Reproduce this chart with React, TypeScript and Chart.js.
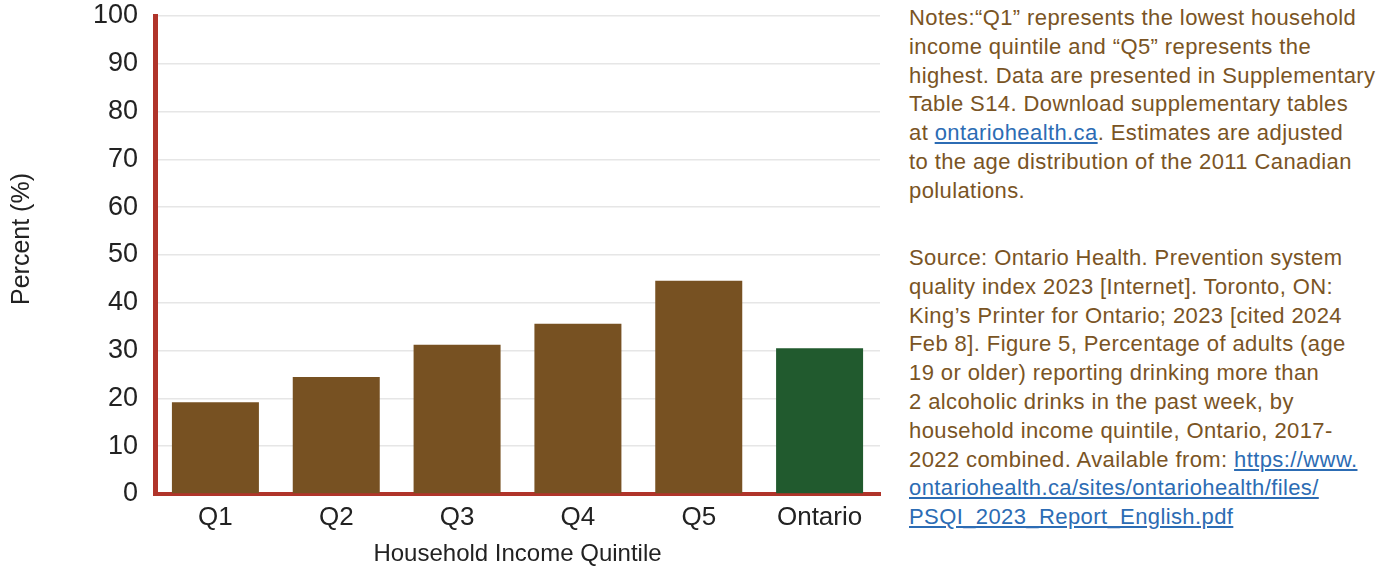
import React, { useEffect, useRef } from "react";
import { Chart, registerables } from "chart.js";

Chart.register(...registerables);

const categories = ["Q1", "Q2", "Q3", "Q4", "Q5", "Ontario"];
const percentValues = [19.2, 24.5, 31.2, 35.6, 44.6, 30.5];
const barColors = ["#775122", "#775122", "#775122", "#775122", "#775122", "#215a2e"];
const yTickValues = [0, 10, 20, 30, 40, 50, 60, 70, 80, 90, 100];
const yAxisTitle = "Percent (%)";
const xAxisTitle = "Household Income Quintile";

const FONT = "'Liberation Sans', Arial, sans-serif";
const TEXT_BROWN = "#7a5424";
const LINK_BLUE = "#2c6cb4";

const yTitlePlugin = {
  id: "yTitlePlugin",
  afterDraw(chart: any) {
    const ctx = chart.ctx;
    ctx.save();
    ctx.translate(22, 239);
    ctx.rotate(-Math.PI / 2);
    ctx.font = `25px ${FONT}`;
    ctx.fillStyle = "#222";
    ctx.textAlign = "center";
    ctx.textBaseline = "middle";
    ctx.fillText(yAxisTitle, 0, 0);
    ctx.restore();
  },
};

export default function App() {
  const canvasRef = useRef<HTMLCanvasElement | null>(null);

  useEffect(() => {
    if (!canvasRef.current) return;
    const chart = new Chart(canvasRef.current, {
      type: "bar",
      data: {
        labels: categories,
        datasets: [
          {
            data: percentValues,
            backgroundColor: barColors,
            borderWidth: 0,
            barPercentage: 0.72,
            categoryPercentage: 1,
          },
        ],
      },
      plugins: [yTitlePlugin],
      options: {
        animation: false,
        responsive: false,
        maintainAspectRatio: false,
        layout: { padding: { top: 16, right: 10, left: 0, bottom: 0 } },
        plugins: { legend: { display: false }, tooltip: { enabled: false } },
        scales: {
          x: {
            grid: { display: false, drawTicks: false },
            border: { display: true, color: "#b0342a", width: 4 },
            ticks: {
              color: "#222",
              font: { family: FONT, size: 26 },
              padding: 8,
            },
            title: {
              display: true,
              text: xAxisTitle,
              color: "#222",
              font: { family: FONT, size: 24 },
              padding: { top: 2, bottom: 0 },
            },
            afterFit: (scale: any) => {
              scale.height = 75;
              scale.paddingLeft = 0;
              scale.paddingRight = 0;
            },
          },
          y: {
            min: 0,
            max: 100,
            afterBuildTicks: (scale: any) => {
              scale.ticks = yTickValues.map((v) => ({ value: v }));
            },
            grid: { color: "#e6e6e6", lineWidth: 1.5, drawTicks: false },
            border: { display: true, color: "#b0342a", width: 5 },
            ticks: {
              color: "#222",
              font: { family: FONT, size: 27 },
              padding: 17,
            },
            afterFit: (scale: any) => {
              scale.width = 155;
              scale.paddingTop = 0;
              scale.paddingBottom = 0;
            },
          },
        },
      },
    });
    return () => chart.destroy();
  }, []);

  const para: React.CSSProperties = {
    margin: 0,
    fontFamily: FONT,
    fontSize: 22,
    letterSpacing: "0.4px",
    lineHeight: "28.8px",
    color: TEXT_BROWN,
    whiteSpace: "nowrap",
  };
  const link: React.CSSProperties = { color: LINK_BLUE, textDecoration: "underline" };

  return (
    <div style={{ position: "absolute", left: 0, top: 0, width: 1392, height: 569, background: "#fff", overflow: "hidden" }}>
      <div style={{ position: "absolute", left: 0, top: 0, width: 890, height: 569 }}>
        <canvas ref={canvasRef} width={890} height={569} style={{ width: 890, height: 569 }} />
      </div>
      <div style={{ position: "absolute", left: 909, top: 4 }}>
        <p style={para}>
          Notes:“Q1” represents the lowest household<br />
          income quintile and “Q5” represents the<br />
          highest. Data are presented in Supplementary<br />
          Table S14. Download supplementary tables<br />
          at <span style={link}>ontariohealth.ca</span>. Estimates are adjusted<br />
          to the age distribution of the 2011 Canadian<br />
          polulations.
        </p>
      </div>
      <div style={{ position: "absolute", left: 909, top: 244 }}>
        <p style={para}>
          Source: Ontario Health. Prevention system<br />
          quality index 2023 [Internet]. Toronto, ON:<br />
          King’s Printer for Ontario; 2023 [cited 2024<br />
          Feb 8]. Figure 5, Percentage of adults (age<br />
          19 or older) reporting drinking more than<br />
          2 alcoholic drinks in the past week, by<br />
          household income quintile, Ontario, 2017-<br />
          2022 combined. Available from: <span style={link}>https://www.</span><br />
          <span style={link}>ontariohealth.ca/sites/ontariohealth/files/</span><br />
          <span style={link}>PSQI_2023_Report_English.pdf</span>
        </p>
      </div>
    </div>
  );
}
